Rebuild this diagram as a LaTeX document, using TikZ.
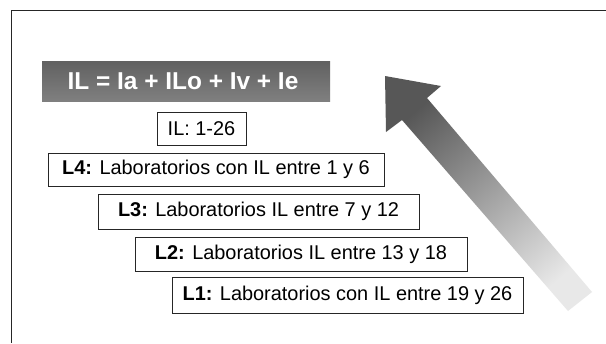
\documentclass[tikz,border=0pt]{standalone}
\usepackage{fontspec}
\setmainfont{Liberation Sans}
\begin{document}
\begin{tikzpicture}[x=1bp,y=-1bp,
  levelbox/.style={draw=black!85, line width=0.8bp, fill=white, inner sep=0pt,
    font=\fontsize{20}{23}\selectfont},
  titlebox/.style={inner sep=0pt, text=white, font=\fontsize{24.5}{28}\bfseries\selectfont},
  frameline/.style={draw=black!85, line width=1.1bp}]
\useasboundingbox (0,0) rectangle (606,343);
\fill[white] (0,0) rectangle (606,343);
% frame
\coordinate (fa) at (606,10.5);
\coordinate (fb) at (11.5,10.5);
\coordinate (fc) at (11.5,343);
\draw[frameline] (fa) -- (fb) -- (fc);
% big arrow
\shade[top color=black!66, bottom color=black!9, shading angle=40.5]
  (385,76) -- (441,86) -- (427,98) -- (592,292) -- (568,311) -- (402,120) -- (386,132) -- cycle;
% title box
\shade[top color=black!62, bottom color=black!50] (42,61) rectangle (330,101);
\node[titlebox] (title) at (183,81) {IL = Ia + ILo + Iv + Ie};
% boxes
\node[levelbox, minimum width=89bp, minimum height=33bp] (range) at (201.5,128.5) {IL: 1-26};
\node[levelbox, minimum width=336bp, minimum height=33bp] (l4) at (216,169.5) {\textbf{L4:} Laboratorios con IL entre 1 y 6};
\node[levelbox, minimum width=321bp, minimum height=35bp] (l3) at (258.5,211.5) {\textbf{L3:} Laboratorios IL entre 7 y 12};
\node[levelbox, minimum width=332bp, minimum height=34bp] (l2) at (301,254) {\textbf{L2:} Laboratorios IL entre 13 y 18};
\node[levelbox, minimum width=351bp, minimum height=36bp] (l1) at (347.5,295) {\textbf{L1:} Laboratorios con IL entre 19 y 26};
\end{tikzpicture}
\end{document}
